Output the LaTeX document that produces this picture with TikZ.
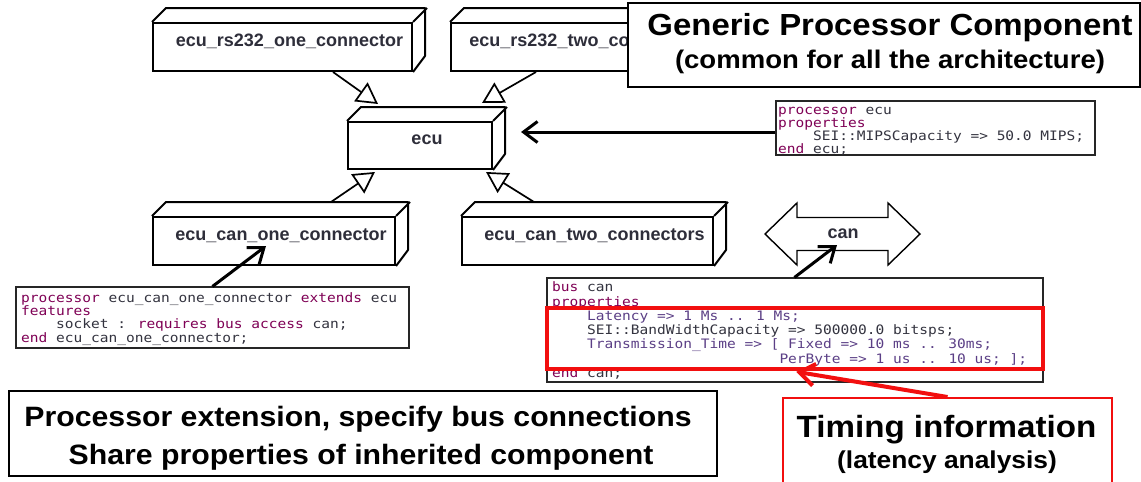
\documentclass[tikz,border=0pt]{standalone}
\usepackage{fontspec}
\usetikzlibrary{arrows.meta,calc}
\setmainfont{Liberation Sans}
\newfontfamily\capfont[FakeStretch=1.08]{Liberation Sans}
\newfontfamily\lblfont{Liberation Sans}
\newfontfamily\codefont[FakeStretch=1.117]{DejaVu Sans Mono}
\definecolor{kwc}{HTML}{7F0055}
\definecolor{idc}{HTML}{33333F}
\definecolor{prc}{HTML}{5B3F86}
\definecolor{lblc}{HTML}{2E2E3A}
\definecolor{hired}{HTML}{F20F0F}
% keyword, property name, indentation by character columns, first-line strut
\newcommand\kw[1]{\textcolor{kwc}{#1}}
\newcommand\pn[1]{\textcolor{prc}{#1}}
\newcommand\ind[1]{\hspace*{#1\fontcharwd\font`0}}
\newcommand\topstrut{\rule{0pt}{10pt}}
% 3D component box: [right limit of the label], name, x1, y1, x2, y2 of the front face, label
\newcommand\compbox[7][1141]{%
  \node[front, minimum width={#5-#3}, minimum height={#6-#4}] (#2) at ({(#3+#5)/2},{(#4+#6)/2}) {};
  \draw[boxline] (#2.north west) -- ++(14,-14) -- ++({#5-#3},0) -- ++(0,{#6-#4}) -- (#2.south east)
                 (#2.north east) -- ++(14,-14);
  \begin{scope}
    \clip (0,0) rectangle (#1,482);
    \node[lbl, anchor=base] (#2-t) at ($(#2.center)+(7,-1)$) {#7};
  \end{scope}
}
\begin{document}
\begin{tikzpicture}[x=1pt,y=-1pt,
  front/.style={draw=black, line width=2, fill=white, inner sep=0},
  boxline/.style={draw=black, line width=2, line join=round},
  lbl/.style={font=\lblfont\bfseries\fontsize{18}{20}\selectfont, text=lblc, inner sep=0},
  inh/.style={draw=black, line width=1.7, -{Triangle[open, length=21pt, width=23pt]}},
  blk/.style={draw=black, line width=3, -{Straight Barb[length=14pt, width=21pt]}},
  redarr/.style={draw=hired, line width=4, -{Straight Barb[length=15pt, width=22pt]}},
  codebox/.style={draw=black!85, line width=1.1, fill=white, inner sep=0},
  code/.style={anchor=north west, inner sep=0, align=left, text=idc},
  capbox/.style={draw=black, line width=1.2, fill=white, inner sep=0},
  captext/.style={anchor=base, inner sep=0, text=black},
]
\useasboundingbox (0,0) rectangle (1141,482);
\clip (0,0) rectangle (1141,482);
\fill[white] (0,0) rectangle (1141,482);

% component boxes
\compbox{rsone}{153}{23}{412}{71}{ecu\_rs232\_one\_connector}
\compbox[628]{rstwo}{451}{23}{710}{71}{ecu\_rs232\_two\_connectors}
\compbox{ecu}{348}{122}{492}{169}{ecu}
\compbox{canone}{153}{217}{395}{265}{ecu\_can\_one\_connector}
\compbox{cantwo}{462}{217}{713}{265}{ecu\_can\_two\_connectors}

% inheritance
\draw[inh] ($(rsone.south)+(50.5,0)$) -- ($(ecu.north west)+(31,-17)$);
\draw[inh] ($(rstwo.south west)+(86,0)$) -- ($(ecu.north east)+(-11,-18)$);
\draw[inh] ($(canone.north west)+(179,-14)$) -- ($(ecu.south west)+(28,2)$);
\draw[inh] ($(cantwo.north west)+(73,-14)$) -- ($(ecu.south east)+(-7,2)$);

% bus
\draw[line width=1.4, line join=miter, fill=white]
  (765,234) -- (797,203) -- (797,217.5) -- (888,217.5) -- (888,203) -- (920,234)
  -- (888,265) -- (888,250.5) -- (797,250.5) -- (797,265) -- cycle;
\node[lbl] (can) at (843,234) {can};

% AADL listings
\node[codebox, minimum width=319, minimum height=54] (ecucode) at (935.5,128) {};
\node[code, font=\codefont\fontsize{13}{12.8}\selectfont] (ecucode-t) at (778,104.5)
  {\topstrut\kw{processor} ecu\\
   \kw{properties}\\
   \ind{4}SEI::MIPSCapacity => 50.0 MIPS;\\
   \kw{end} ecu;};

\node[codebox, minimum width=393, minimum height=61] (onecode) at (212.5,317.5) {};
\node[code, font=\codefont\fontsize{13}{13.1}\selectfont] (onecode-t) at (21,292.5)
  {\topstrut\kw{processor} ecu\_can\_one\_connector \kw{extends} ecu\\
   \kw{features}\\
   \ind{4}socket : \kw{requires bus access} can;\\
   \kw{end} ecu\_can\_one\_connector;};

\node[codebox, minimum width=496, minimum height=104] (buscode) at (795,330) {};
\node[code, font=\codefont\fontsize{13}{14.3}\selectfont] (buscode-t) at (552,281.5)
  {\topstrut\kw{bus} can\\
   \kw{properties}\\
   \ind{4}\pn{Latency => 1 Ms .. 1 Ms;}\\
   \ind{4}SEI::BandWidthCapacity => 500000.0 bitsps;\\
   \ind{4}\pn{Transmission\_Time => [ Fixed => 10 ms .. 30ms;}\\
   \ind{26}\pn{PerByte => 1 us .. 10 us; ];}\\
   \kw{end} can;};
\node[draw=hired, line width=3.5, minimum width=496, minimum height=61, inner sep=0] (timing-frame) at (795,338.5) {};

% pointers from listings to model elements
\draw[blk] ($(ecucode.west)+(0,4)$) -- ($(ecu.east)+(28,-13.5)$);
\draw[blk] ($(onecode.north west)+(197,0)$) -- ($(canone.south)+(-8,-20)$);
\draw[blk] ($(buscode.north west)+(248,0)$) -- ($(can.center)+(-6,11)$);

% captions
\node[capbox, minimum width=512, minimum height=84] (generic) at (884,45) {};
\node[captext, font=\capfont\bfseries\fontsize{30.5}{34}\selectfont] (generic-1) at (890,35) {Generic Processor Component};
\node[captext, font=\capfont\bfseries\fontsize{25.5}{30}\selectfont] (generic-2) at (890,68) {(common for all the architecture)};

\node[capbox, minimum width=708, minimum height=85] (ext) at (363,433.5) {};
\node[captext, font=\capfont\bfseries\fontsize{28}{32}\selectfont] (ext-1) at (358,426) {Processor extension, specify bus connections};
\node[captext, font=\capfont\bfseries\fontsize{28}{32}\selectfont] (ext-2) at (361,464) {Share properties of inherited component};

\node[capbox, draw=hired, line width=2, minimum width=329, minimum height=104] (timing) at (947.5,450) {};
\node[captext, font=\capfont\bfseries\fontsize{30.7}{34}\selectfont] (timing-1) at (946.5,437) {Timing information};
\node[captext, font=\capfont\bfseries\fontsize{24.4}{28}\selectfont] (timing-2) at (947,468) {(latency analysis)};

\draw[redarr] (timing.north) -- ($(timing-frame.south west)+(251,1)$);
\end{tikzpicture}
\end{document}
